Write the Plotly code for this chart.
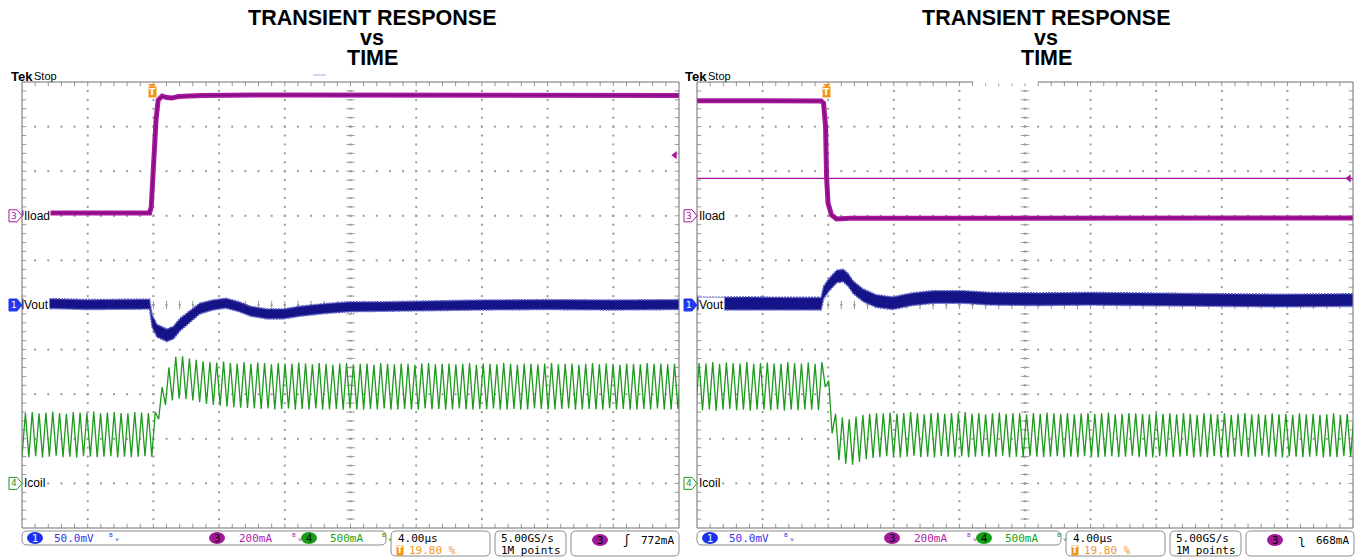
import plotly.graph_objects as go

W, H = 1356, 557

# ---------------- scope settings (status bar) ----------------
SEC_PER_DIV = 4.0          # us / div
TRIG_PCT = 19.80           # trigger position, % of record
N_DIV_X, N_DIV_Y = 10, 10
CH1_SCALE = 50.0           # mV / div  (Vout)
CH3_SCALE = 200.0          # mA / div  (Iload)
CH4_SCALE = 500.0          # mA / div  (Icoil)
CH3_OFFSET = 500.0         # mA at the ch3 marker
CH1_POS, CH3_POS, CH4_POS = 0.0, 2.0, -4.0   # marker positions (div)
TRIG_LEVELS = [772, 668]   # mA
TRIG_SLOPE = ["ʃ", "ʅ"]
SW_PERIOD = 0.416          # us, inductor ripple period
ICOIL_T0 = [-7.92, -8.0]   # us, first ripple valley of each capture

T_MIN = -TRIG_PCT / 100 * N_DIV_X * SEC_PER_DIV
T_MAX = T_MIN + N_DIV_X * SEC_PER_DIV

# ---------------- Iload (mA) ----------------
iload_t_left = [-7.92, -0.15, -0.05, 0.0, 0.12, 0.24, 0.37, 0.61, 0.9, 1.2, 1.6, 3.0, 8.0, 14.0, 20.0, 26.0, 32.08]
iload_left = [512, 513, 540, 616, 795, 930, 1019, 1037, 1030, 1028, 1035, 1040, 1042, 1041, 1043, 1041, 1040]
iload_t_right = [-7.92, -4.0, -0.35, -0.2, -0.08, -0.02, 0.07, 0.28, 0.59, 1.4, 6.0, 14.0, 22.0, 32.08]
iload_right = [1016, 1017, 1015, 1005, 898, 674, 557, 504, 486, 489, 490, 489, 491, 490]

# ---------------- Vout envelope (mV, deviation) ----------------
vout_t_left = [-7.92, -6, -4, -2, -0.15, 0.0, 0.3, 0.9, 1.3, 1.7, 2.3, 2.9, 3.7, 4.5, 5.3, 6.0, 7.0, 8.0,
               9.0, 10.5, 12, 14, 17, 20, 24, 28, 32.08]
vout_hi_left = [6.5, 7, 6, 6.5, 6.5, -11, -22, -27, -24, -15, -6, 2, 5.5, 7.5, 3.5, -1.5, -4.5, -4.5,
                -1.5, 1.5, 3.5, 3.5, 4.5, 5.5, 6, 5.5, 6]
vout_lo_left = [-4.5, -4, -5, -4.5, -4.5, -25, -36, -41, -38, -29, -20, -10, -5.5, -3.5, -7.5, -12.5, -15.5, -15.5,
                -12.5, -9.5, -7.5, -7.5, -6.5, -5.5, -5, -5.5, -5]
vout_t_right = [-7.92, -5, -2, -0.35, -0.2, 0.1, 0.6, 1.0, 1.3, 1.6, 2.2, 3.0, 4.0, 5.2, 6.5, 8.3,
                10, 13, 16, 20, 24, 28, 32.08]
vout_hi_right = [8.5, 9, 8.5, 8.5, 21, 29, 39, 40, 35, 27, 18, 11.5, 9, 13.5, 16, 16,
                 14, 13.5, 14, 13, 12.5, 12, 12.5]
vout_lo_right = [-5.5, -5, -5.5, -5.5, 7, 15, 25, 26, 21, 13, 4, -2.5, -5, -0.5, 2, 2,
                 0, -0.5, 0, -1, -1.5, -2, -1.5]

# ---------------- Icoil ripple (mA), one valley / peak per switching cycle ----------------
icoil_valley_left = [300, 295, 305, 290, 300, 310, 295, 300, 290, 305, 300, 295, 300, 305, 290, 300, 295, 300, 305, 300,
                     720, 880, 930, 950, 945, 930, 910, 890, 880, 870, 860, 855, 850, 845, 840, 835, 840, 830, 835, 840,
                     825, 835, 830, 840, 825, 830, 835, 825, 840, 830, 825, 835, 830, 840, 825, 830, 835, 830, 825, 840,
                     830, 835, 825, 830, 840, 830, 825, 835, 830, 840, 825, 830, 835, 825, 830, 840, 835, 825, 830, 835,
                     840, 825, 830, 835, 830, 825, 840, 830, 835, 825, 830, 835, 830, 840, 825, 830, 835]
icoil_peak_left = [790, 800, 785, 795, 805, 790, 780, 800, 795, 790, 805, 785, 795, 800, 790, 785, 800, 795, 790,
                   800, 1080, 1300, 1420, 1425, 1400, 1385, 1370, 1360,
                   1355, 1365, 1350, 1345, 1360, 1340, 1355, 1350, 1335, 1350,
                   1345, 1340, 1355, 1345, 1335, 1350, 1340, 1330, 1345, 1350,
                   1335, 1340, 1345, 1330, 1350, 1340, 1335, 1345, 1340, 1330,
                   1345, 1350, 1335, 1340, 1345, 1335, 1340, 1350, 1330, 1345,
                   1340, 1335, 1350, 1340, 1330, 1345, 1340, 1335, 1345, 1350,
                   1335, 1340, 1345, 1330, 1340, 1350, 1335, 1345, 1340, 1330,
                   1345, 1340, 1335, 1350, 1340, 1345, 1335, 1340, 1345]
icoil_valley_right = [825, 820, 830, 815, 825, 835, 820, 825, 815, 830, 825, 820, 830, 815, 825, 820, 830, 825, 820,
                      1080, 560, 260, 220, 210, 240, 270, 285,
                      295, 305, 300, 290, 300, 310, 295, 300, 290, 305,
                      300, 295, 305, 290, 300, 305, 295, 300, 310, 295,
                      300, 290, 305, 300, 295, 300, 305, 290, 300, 295,
                      305, 300, 290, 300, 305, 295, 300, 310, 295, 300,
                      290, 305, 300, 295, 300, 305, 290, 300, 295, 305,
                      300, 290, 300, 305, 295, 300, 310, 295, 300, 290,
                      305, 300, 295, 300, 305, 290, 300, 295, 305, 300]
icoil_peak_right = [1350, 1345, 1360, 1340, 1355, 1350, 1345, 1360, 1340, 1350, 1355, 1345, 1340, 1360, 1350, 1345, 1355, 1340, 1360,
                    1150, 780, 740, 720, 750, 770, 780, 790,
                    785, 795, 780, 790, 800, 785, 775, 790, 795, 780,
                    790, 785, 800, 780, 790, 775, 785, 795, 780, 790,
                    785, 775, 790, 780, 795, 785, 780, 790, 775, 785,
                    790, 780, 785, 795, 775, 780, 790, 785, 780, 775,
                    790, 780, 785, 775, 790, 780, 770, 785, 780, 775,
                    785, 770, 780, 790, 775, 780, 770, 785, 775, 780,
                    770, 785, 775, 780, 770, 775, 785, 770, 780, 775]

# ---------------- colours ----------------
C_CH1 = "#141488"
C_CH1_EDGE = "#5a5ac4"
C_CH3 = "#a8169f"
C_CH3_DARK = "#820f7c"
C_CH4 = "#1f991f"
C_GRID = "#9a9a9a"
C_FRAME = "#6e6e6e"
C_ORANGE = "#f0961c"
C_BLUE_TXT = "#2f35e8"
C_PURP_TXT = "#b01aa8"
C_GREEN_TXT = "#14a014"


def px(x):
    return x / W


def py(y):
    return 1 - y / H


def d1(mv):
    return CH1_POS + mv / CH1_SCALE


def d3(ma):
    return CH3_POS + (ma - CH3_OFFSET) / CH3_SCALE


def d4(ma):
    return CH4_POS + ma / CH4_SCALE


panels = [
    dict(xa="x", ya="y", xl=22, xr=679),
    dict(xa="x2", ya="y2", xl=697, xr=1353),
]
Y_TOP, Y_BOT = 82, 528

fig = go.Figure()


def add(tr):
    fig.add_trace(tr)


# ---------------- graticule ----------------
dx = SEC_PER_DIV / 5
dy = 0.2
for p in panels:
    xa, ya = p["xa"], p["ya"]
    x_major = [T_MIN + i * SEC_PER_DIV for i in range(N_DIV_X + 1)]
    x_minor = [T_MIN + m * dx for m in range(1, N_DIV_X * 5)]
    y_minor = [-5 + j * dy for j in range(1, N_DIV_Y * 5)]
    gx, gy = [], []
    for i in range(1, N_DIV_X):
        if i == 5:
            continue
        gx += [x_major[i]] * len(y_minor)
        gy += y_minor
    for j in range(-4, 5):
        if j == 0:
            continue
        gx += x_minor
        gy += [j] * len(x_minor)
    gx += [x_major[5]] * len(y_minor) + x_minor
    gy += y_minor + [0] * len(x_minor)
    add(go.Scatter(x=gx, y=gy, xaxis=xa, yaxis=ya, mode="markers",
                   marker=dict(size=2, color=C_GRID, symbol="square"), hoverinfo="skip"))
    add(go.Scatter(x=[x_major[5]] * len(y_minor), y=y_minor, xaxis=xa, yaxis=ya, mode="markers",
                   marker=dict(symbol="line-ew", size=6, line=dict(width=1, color=C_GRID)), hoverinfo="skip"))
    add(go.Scatter(x=x_minor, y=[0] * len(x_minor), xaxis=xa, yaxis=ya, mode="markers",
                   marker=dict(symbol="line-ns", size=6, line=dict(width=1, color=C_GRID)), hoverinfo="skip"))
    sx = 0.0609 * 1.5
    sy = 0.0224 * 1.5
    add(go.Scatter(x=x_minor + x_minor, y=[5 - sy] * len(x_minor) + [-5 + sy] * len(x_minor),
                   xaxis=xa, yaxis=ya, mode="markers",
                   marker=dict(symbol="line-ns", size=4, line=dict(width=1, color=C_GRID)), hoverinfo="skip"))
    add(go.Scatter(x=[T_MIN + sx] * len(y_minor) + [T_MAX - sx] * len(y_minor), y=y_minor + y_minor,
                   xaxis=xa, yaxis=ya, mode="markers",
                   marker=dict(symbol="line-ew", size=4, line=dict(width=1, color=C_GRID)), hoverinfo="skip"))

# ---------------- traces ----------------
iload_sets = [(iload_t_left, iload_left), (iload_t_right, iload_right)]
vout_sets = [(vout_t_left, vout_hi_left, vout_lo_left), (vout_t_right, vout_hi_right, vout_lo_right)]
icoil_sets = [(icoil_valley_left, icoil_peak_left), (icoil_valley_right, icoil_peak_right)]

for idx, p in enumerate(panels):
    xa, ya = p["xa"], p["ya"]
    if idx == 1:
        add(go.Scatter(x=[T_MIN, T_MAX], y=[d3(TRIG_LEVELS[idx])] * 2, xaxis=xa, yaxis=ya, mode="lines",
                       line=dict(color=C_CH3, width=1.2), hoverinfo="skip"))
    vl, pk = icoil_sets[idx]
    t0 = ICOIL_T0[idx]
    cx, cy = [], []
    for k, (v, pkv) in enumerate(zip(vl, pk)):
        cx += [t0 + k * SW_PERIOD, t0 + (k + 0.5) * SW_PERIOD]
        cy += [d4(v), d4(pkv)]
    add(go.Scatter(x=cx, y=cy, xaxis=xa, yaxis=ya, mode="lines",
                   line=dict(color=C_CH4, width=1.3), hoverinfo="skip"))
    t, hi, lo = vout_sets[idx]
    add(go.Scatter(x=t + t[::-1], y=[d1(v) for v in hi] + [d1(v) for v in lo[::-1]],
                   xaxis=xa, yaxis=ya, mode="lines", fill="toself", fillcolor=C_CH1,
                   line=dict(color=C_CH1_EDGE, width=1.6, dash="2px,1px"), hoverinfo="skip"))
    t, v = iload_sets[idx]
    add(go.Scatter(x=t, y=[d3(a) for a in v], xaxis=xa, yaxis=ya, mode="lines",
                   line=dict(color=C_CH3, width=5), hoverinfo="skip"))
    add(go.Scatter(x=t, y=[d3(a) for a in v], xaxis=xa, yaxis=ya, mode="lines",
                   line=dict(color=C_CH3_DARK, width=1.5), hoverinfo="skip"))
    add(go.Scatter(x=[T_MAX - 0.25], y=[d3(TRIG_LEVELS[idx])], xaxis=xa, yaxis=ya, mode="markers",
                   marker=dict(symbol="triangle-left", size=7, color=C_CH3), cliponaxis=False, hoverinfo="skip"))

shapes = []
annotations = []

for idx, p in enumerate(panels):
    xl, xr = p["xl"], p["xr"]
    off = 0 if idx == 0 else 675
    shapes.append(dict(type="rect", xref="paper", yref="paper", x0=px(xl), x1=px(xr), y0=py(Y_BOT), y1=py(Y_TOP),
                       line=dict(color=C_FRAME, width=1), layer="above"))
    if idx == 1:
        shapes.append(dict(type="line", xref="paper", yref="paper", x0=px(973), x1=px(1038), y0=py(Y_TOP), y1=py(Y_TOP),
                           line=dict(color="white", width=3), layer="above"))
    else:
        shapes.append(dict(type="line", xref="paper", yref="paper", x0=px(313), x1=px(326), y0=py(75), y1=py(75),
                           line=dict(color="#d6d6f0", width=2), layer="above"))
    tcx = 372 + off * (1046 - 372) / 675
    for text, yy in (("TRANSIENT RESPONSE", 18), ("vs", 38), ("TIME", 58)):
        annotations.append(dict(text="<b>%s</b>" % text, x=px(tcx), y=py(yy), xref="paper", yref="paper",
                                showarrow=False, xanchor="center", yanchor="middle",
                                font=dict(family="Liberation Sans", size=21.5, color="black")))
    annotations.append(dict(text="<b>Tek</b>", x=px(9 + off * 674 / 675), y=py(76), xref="paper", yref="paper",
                            showarrow=False, xanchor="left", yanchor="middle",
                            font=dict(family="Liberation Sans", size=13, color="black")))
    annotations.append(dict(text="Stop", x=px(32 + off * 674 / 675), y=py(76), xref="paper", yref="paper",
                            showarrow=False, xanchor="left", yanchor="middle",
                            font=dict(family="Liberation Sans", size=11, color="black")))
    tx = xl + (0 - T_MIN) / (T_MAX - T_MIN) * (xr - xl)
    shapes.append(dict(type="path", xref="paper", yref="paper",
                       path="M %f %f L %f %f L %f %f Z" % (px(tx - 4), py(84), px(tx + 4), py(84), px(tx), py(88)),
                       fillcolor=C_ORANGE, line=dict(width=0), layer="above"))
    annotations.append(dict(text="<b>T</b>", x=px(tx), y=py(92), xref="paper", yref="paper", showarrow=False,
                            xanchor="center", yanchor="middle", bgcolor=C_ORANGE, borderpad=0,
                            font=dict(family="DejaVu Sans", size=9, color="white")))
    chans = [(CH3_POS, "3", C_CH3, False, "Iload"), (CH1_POS, "1", "#2438f0", True, "Vout"),
             (CH4_POS, "4", C_CH4, False, "Icoil")]
    for pos, num, col, filled, lab in chans:
        yc = Y_TOP + (5 - pos) * (Y_BOT - Y_TOP) / N_DIV_Y
        xm = xl - 13
        path = "M %f %f L %f %f L %f %f L %f %f L %f %f Z" % (
            px(xm), py(yc - 6), px(xm + 8), py(yc - 6), px(xm + 13), py(yc), px(xm + 8), py(yc + 6), px(xm), py(yc + 6))
        shapes.append(dict(type="path", xref="paper", yref="paper", path=path,
                           fillcolor=col if filled else "white", line=dict(color=col, width=1), layer="above"))
        annotations.append(dict(text=num, x=px(xm + 5), y=py(yc), xref="paper", yref="paper", showarrow=False,
                                xanchor="center", yanchor="middle",
                                font=dict(family="DejaVu Sans", size=9, color="white" if filled else col)))
        annotations.append(dict(text=lab, x=px(xl + 1), y=py(yc), xref="paper", yref="paper", showarrow=False,
                                xanchor="left", yanchor="middle", bgcolor="white", borderpad=0,
                                font=dict(family="Liberation Sans", size=12, color="black")))

    def rbox(x0, y0, x1, y1, r=5):
        x0p, x1p = px(x0 + off), px(x1 + off)
        rx, ry = r / W, r / H
        y0p, y1p = py(y0), py(y1)
        path = ("M %f %f L %f %f Q %f %f %f %f L %f %f Q %f %f %f %f L %f %f Q %f %f %f %f L %f %f Q %f %f %f %f Z" % (
            x0p + rx, y0p, x1p - rx, y0p, x1p, y0p, x1p, y0p - ry, x1p, y1p + ry, x1p, y1p, x1p - rx, y1p,
            x0p + rx, y1p, x0p, y1p, x0p, y1p + ry, x0p, y0p - ry, x0p, y0p, x0p + rx, y0p))
        shapes.append(dict(type="path", xref="paper", yref="paper", path=path,
                           line=dict(color="#8c8c8c", width=1), fillcolor="white", layer="above"))

    def txt(s, x, y, col="black", anchor="left", size=11):
        annotations.append(dict(text=s, x=px(x + off), y=py(y), xref="paper", yref="paper", showarrow=False,
                                xanchor=anchor, yanchor="middle",
                                font=dict(family="DejaVu Sans Mono", size=size, color=col)))

    def badge(num, cx, col, y=538):
        shapes.append(dict(type="circle", xref="paper", yref="paper", x0=px(cx + off - 8), x1=px(cx + off + 8),
                           y0=py(y + 6), y1=py(y - 6), fillcolor=col, line=dict(width=0), layer="above"))
        annotations.append(dict(text=num, x=px(cx + off), y=py(y), xref="paper", yref="paper", showarrow=False,
                                xanchor="center", yanchor="middle",
                                font=dict(family="DejaVu Sans", size=10, color="black" if col != "#1a30f0" else "white")))

    rbox(22, 531, 386, 545)
    rbox(391, 531, 490, 556)
    rbox(495, 531, 566, 556)
    rbox(571, 531, 679, 556)
    badge("1", 35, "#1a30f0")
    txt("%.1fmV" % CH1_SCALE, 52, 538, C_BLUE_TXT)
    txt("ᴮᵥ", 106, 537, C_BLUE_TXT, size=10)
    badge("3", 217, "#a01a98")
    txt("%dmA" % CH3_SCALE, 237, 538, C_PURP_TXT)
    txt("ᴮᵥ", 289, 537, C_PURP_TXT, size=10)
    badge("4", 309, "#14a014")
    txt("%dmA" % CH4_SCALE, 328, 538, C_GREEN_TXT)
    txt("ᴮᵥ", 379, 537, C_GREEN_TXT, size=10)
    txt("%.2fµs" % SEC_PER_DIV, 396, 538)
    annotations.append(dict(text="<b>T</b>", x=px(400 + off), y=py(550), xref="paper", yref="paper",
                            showarrow=False, xanchor="center", yanchor="middle", bgcolor=C_ORANGE, borderpad=0,
                            font=dict(family="DejaVu Sans", size=8, color="white")))
    txt("%.2f %%" % TRIG_PCT, 407, 550, C_ORANGE)
    txt("5.00GS/s", 499, 538)
    txt("1M points", 499, 550)
    badge("3", 600, "#a01a98", 540)
    txt(TRIG_SLOPE[idx], 626, 540, "black", "center", 12)
    txt("%dmA" % TRIG_LEVELS[idx], 676, 540, "black", "right")

layout_axes = {}
for i, p in enumerate(panels):
    sfx = "" if i == 0 else "2"
    layout_axes["xaxis" + sfx] = dict(domain=[px(p["xl"]), px(p["xr"])], range=[T_MIN, T_MAX], visible=False,
                                      fixedrange=True, anchor="y" + sfx)
    layout_axes["yaxis" + sfx] = dict(domain=[py(Y_BOT), py(Y_TOP)], range=[-5, 5], visible=False,
                                      fixedrange=True, anchor="x" + sfx)

fig.update_layout(width=W, height=H, margin=dict(l=0, r=0, t=0, b=0), showlegend=False,
                  paper_bgcolor="white", plot_bgcolor="white", shapes=shapes, annotations=annotations,
                  **layout_axes)
fig.write_html("out.html", config={"displayModeBar": False},
               post_script="document.body.style.margin='0';document.body.style.overflow='hidden';")
